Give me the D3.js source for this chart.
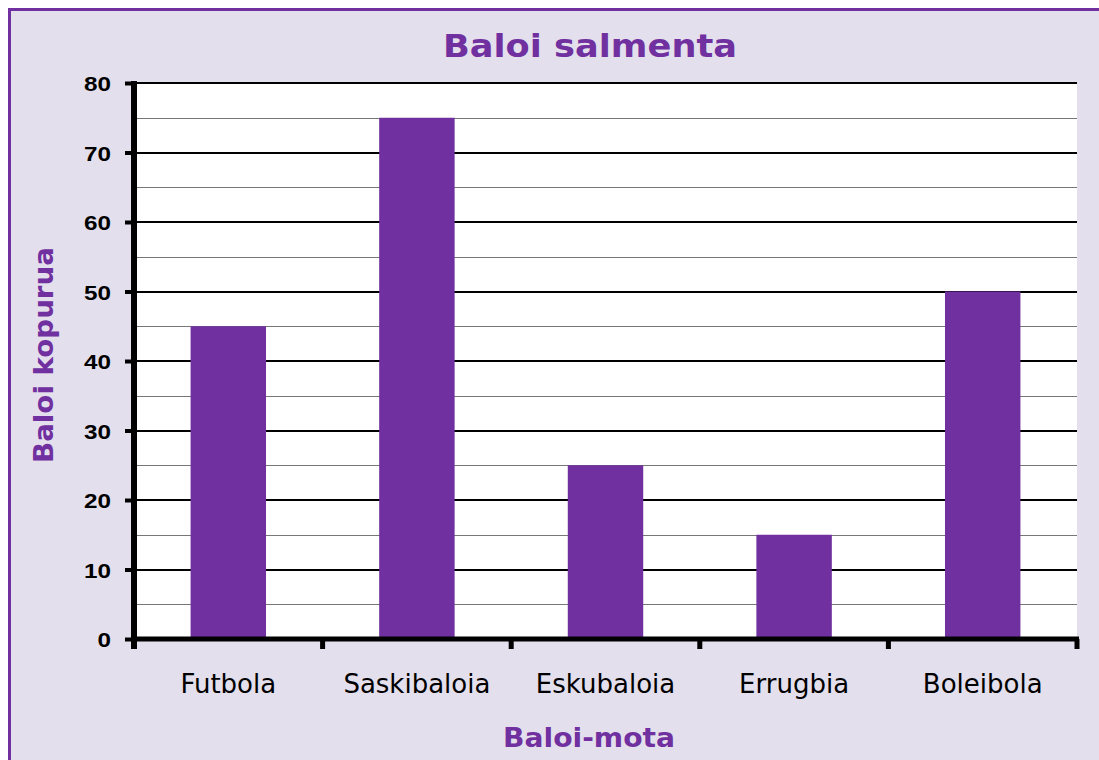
<!DOCTYPE html>
<html>
<head>
<meta charset="utf-8">
<script src="https://cdn.jsdelivr.net/npm/d3@7"></script>
<style>
  html, body { margin: 0; padding: 0; background: #fff; }
  svg { display: block; }
</style>
</head>
<body>
<svg id="chart" width="1099" height="760"></svg>
<script>
// data
var categories = ['Futbola', 'Saskibaloia', 'Eskubaloia', 'Errugbia', 'Boleibola'];
var values = [45, 75, 25, 15, 50];
var yTicks = [0, 10, 20, 30, 40, 50, 60, 70, 80];
var minorTicks = [5, 15, 25, 35, 45, 55, 65, 75];

var purple = '#7030a0';
var svg = d3.select('#chart');

// frame
svg.append('rect')
    .attr('x', 9.5).attr('y', 9.5)
    .attr('width', 1200).attr('height', 800)
    .attr('fill', '#e4dfec')
    .attr('stroke', purple)
    .attr('stroke-width', 3);

var pLeft = 134, pRight = 1077, pTop = 83, pBottom = 639;

var x = d3.scaleBand()
    .domain(categories)
    .range([pLeft, pRight])
    .paddingInner(0.6)
    .paddingOuter(0.3);
var xb = d3.scaleBand().domain(categories).range([pLeft, pRight]);
var y = d3.scaleLinear().domain([0, 80]).range([pBottom, pTop]);

// plot area
svg.append('rect')
    .attr('x', pLeft).attr('y', pTop)
    .attr('width', pRight - pLeft).attr('height', pBottom - pTop)
    .attr('fill', '#fff');

// minor grid
svg.append('g').selectAll('line')
    .data(minorTicks).join('line')
    .attr('x1', pLeft).attr('x2', pRight)
    .attr('y1', function (d) { return Math.round(y(d)) + 0.5; })
    .attr('y2', function (d) { return Math.round(y(d)) + 0.5; })
    .attr('stroke', '#777').attr('stroke-width', 1.2);

// major grid
svg.append('g').selectAll('line')
    .data(yTicks.slice(1)).join('line')
    .attr('x1', pLeft).attr('x2', pRight)
    .attr('y1', function (d) { return Math.round(y(d)); })
    .attr('y2', function (d) { return Math.round(y(d)); })
    .attr('stroke', '#000').attr('stroke-width', 2);

// bars
svg.append('g').selectAll('rect')
    .data(values).join('rect')
    .attr('x', function (d, i) { return x(categories[i]); })
    .attr('width', x.bandwidth())
    .attr('y', function (d) { return y(d); })
    .attr('height', function (d) { return y(0) - y(d); })
    .attr('fill', purple);

// y axis
var yAxis = svg.append('g')
    .attr('transform', 'translate(' + pLeft + ',0)')
    .call(d3.axisLeft(y).tickValues(yTicks).tickSize(9).tickPadding(14));
yAxis.select('.domain').remove();
yAxis.append('line')
    .attr('x1', 0).attr('x2', 0)
    .attr('y1', pTop - 2).attr('y2', pBottom + 10)
    .attr('stroke', '#000').attr('stroke-width', 6);
yAxis.selectAll('.tick line').attr('stroke', '#000').attr('stroke-width', 4);
yAxis.selectAll('.tick text')
    .attr('fill', '#000')
    .attr('dy', '0.36em')
    .style('font-family', '"Liberation Sans", Arial, sans-serif')
    .style('font-weight', 'bold')
    .style('font-size', '21px')
    .attr('textLength', function (d) { return String(d).length * 13.5; })
    .attr('lengthAdjust', 'spacingAndGlyphs');

// x axis line + ticks at band boundaries
var xBounds = categories.map(function (c) { return xb(c); }).concat([pRight]);
svg.append('line')
    .attr('x1', pLeft - 3).attr('x2', pRight + 2)
    .attr('y1', pBottom).attr('y2', pBottom)
    .attr('stroke', '#000').attr('stroke-width', 5);
svg.append('g').selectAll('line')
    .data(xBounds.slice(1)).join('line')
    .attr('x1', function (d) { return d; }).attr('x2', function (d) { return d; })
    .attr('y1', pBottom).attr('y2', pBottom + 10)
    .attr('stroke', '#000').attr('stroke-width', 5);

svg.append('g').selectAll('text')
    .data(categories).join('text')
    .attr('x', function (d) { return xb(d) + xb.bandwidth() / 2; })
    .attr('y', 693)
    .attr('text-anchor', 'middle')
    .style('font-family', '"DejaVu Sans", sans-serif')
    .style('font-size', '26px')
    .attr('fill', '#000')
    .text(function (d) { return d; });

// titles
svg.append('text')
    .attr('x', 590).attr('y', 57)
    .attr('text-anchor', 'middle')
    .style('font-family', '"DejaVu Sans", sans-serif')
    .style('font-weight', 'bold')
    .style('font-size', '32px')
    .attr('textLength', 294)
    .attr('lengthAdjust', 'spacingAndGlyphs')
    .attr('fill', purple)
    .text('Baloi salmenta');

svg.append('text')
    .attr('x', 589).attr('y', 747)
    .attr('text-anchor', 'middle')
    .style('font-family', '"DejaVu Sans", sans-serif')
    .style('font-weight', 'bold')
    .style('font-size', '26px')
    .attr('textLength', 172)
    .attr('lengthAdjust', 'spacingAndGlyphs')
    .attr('fill', purple)
    .text('Baloi-mota');

svg.append('text')
    .attr('transform', 'translate(53,355) rotate(-90)')
    .attr('text-anchor', 'middle')
    .style('font-family', '"DejaVu Sans", sans-serif')
    .style('font-weight', 'bold')
    .style('font-size', '27px')
    .attr('textLength', 216)
    .attr('lengthAdjust', 'spacingAndGlyphs')
    .attr('fill', purple)
    .text('Baloi kopurua');
</script>
</body>
</html>
